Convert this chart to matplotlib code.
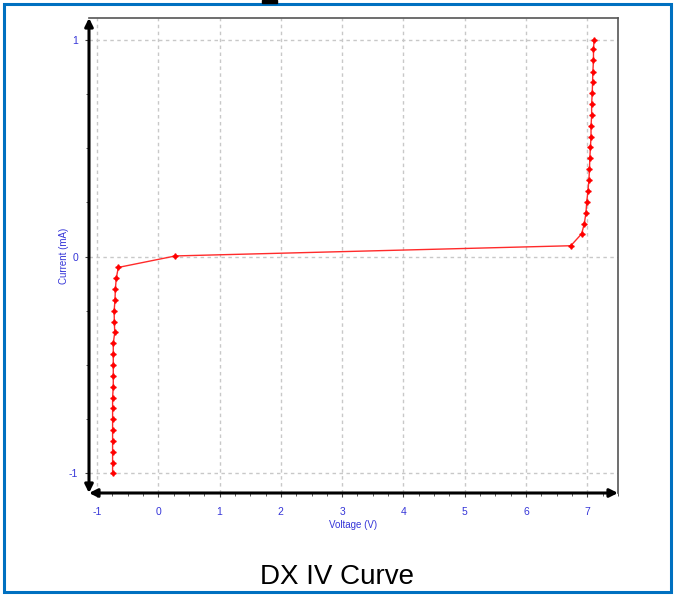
import matplotlib.pyplot as plt
from matplotlib.ticker import MultipleLocator
from matplotlib.patches import Rectangle

# measured IV points (V, mA)
voltage = [-0.745, -0.745, -0.745, -0.745, -0.745, -0.745, -0.745, -0.745,
           -0.734, -0.734, -0.734, -0.734, -0.734, -0.71, -0.717, -0.72,
           -0.706, -0.70, -0.685, -0.652,
           0.28, 6.73,
           6.907, 6.95, 6.977, 6.99, 7.01, 7.025, 7.035, 7.04, 7.05, 7.06,
           7.06, 7.07, 7.07, 7.08, 7.085, 7.09, 7.10, 7.10, 7.11]
current = [-1.0, -0.95, -0.9, -0.85, -0.8, -0.75, -0.7, -0.65,
           -0.6, -0.55, -0.5, -0.45, -0.4, -0.35, -0.3, -0.25,
           -0.2, -0.15, -0.1, -0.05,
           0.003, 0.05,
           0.105, 0.152, 0.201, 0.252, 0.303, 0.352, 0.402, 0.453, 0.504, 0.552,
           0.60, 0.653, 0.704, 0.756, 0.803, 0.853, 0.905, 0.955, 1.0]

x_ticks = [-1, 0, 1, 2, 3, 4, 5, 6, 7]
y_ticks = [-1, 0, 1]

blue = '#3535d8'
plt.rcParams['font.family'] = ['Liberation Sans', 'DejaVu Sans']
plt.rcParams['axes.unicode_minus'] = False

fig = plt.figure(figsize=(6.75, 5.96), dpi=100)
ax = fig.add_axes([89 / 675, 1 - 493 / 596, (618 - 89) / 675, (493 - 18) / 596])

ax.plot(voltage, current, color='#ff2a2a', lw=1.0, marker=(4, 1, 0),
        markersize=4, markerfacecolor='red', markeredgecolor='red')

ax.set_xlim(-1.13, 7.5)
ax.set_ylim(-1.09, 1.10)
ax.set_xticks(x_ticks)
ax.set_yticks(y_ticks)
ax.xaxis.set_minor_locator(MultipleLocator(0.25))
ax.yaxis.set_minor_locator(MultipleLocator(0.25))
ax.tick_params(which='both', colors='#404040', labelcolor=blue, labelsize=7.5)
ax.tick_params(which='major', length=3, width=0.8)
ax.tick_params(which='minor', length=2, width=0.6)
ax.tick_params(axis='x', pad=7)
ax.tick_params(axis='y', pad=5)

ax.grid(True, which='major', color='#c8c8c8', linestyle=(0, (2.5, 2.5)), lw=1)

for s in ['left', 'bottom']:
    ax.spines[s].set_visible(False)
for s in ['top', 'right']:
    ax.spines[s].set_color('#555555')
    ax.spines[s].set_linewidth(1.2)

arrow = dict(arrowstyle='<|-|>', color='black', lw=2.2, mutation_scale=12,
             shrinkA=0, shrinkB=0)
ax.annotate('', xy=(0, 1), xytext=(0, 0), xycoords='axes fraction', arrowprops=arrow)
ax.annotate('', xy=(1, 0), xytext=(0, 0), xycoords='axes fraction', arrowprops=arrow)

ax.set_xlabel('Voltage (V)', color=blue, fontsize=7, labelpad=2)
ax.set_ylabel('Current (mA)', color=blue, fontsize=7, labelpad=0)

fig.text(0.5, 1 - 577 / 596, 'DX IV Curve', ha='center', va='center',
         fontsize=20, color='black')

# blue frame around the picture
frame = Rectangle((4 / 675, 4 / 596), 667 / 675, 588 / 596, transform=fig.transFigure,
                  fill=False, edgecolor='#0070c0', lw=2.2)
fig.patches.append(frame)
fig.patches.append(Rectangle((262 / 675, 1 - 2.5 / 596), 15 / 675, 2.5 / 596,
                             transform=fig.transFigure, color='black'))

fig.savefig('out.png', dpi=100)
